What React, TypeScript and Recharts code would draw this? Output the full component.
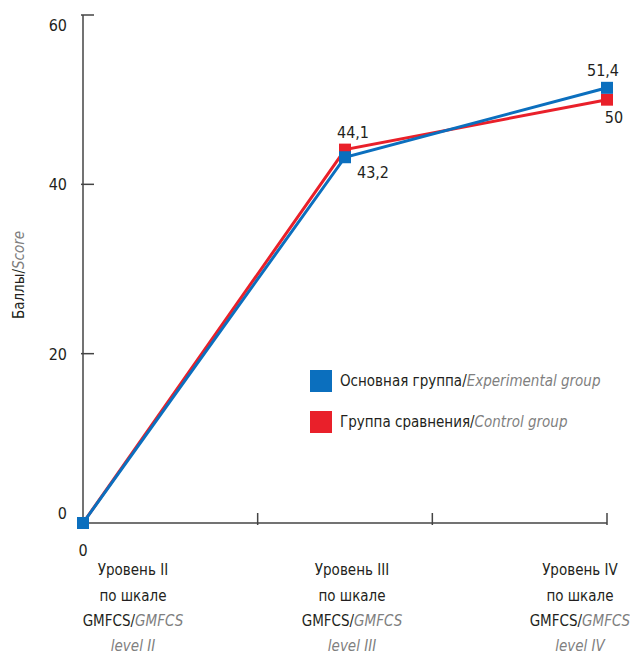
import React from "react";
import { LineChart, Line, XAxis, YAxis, Legend, Label, LabelList } from "recharts";

const levelRu = ["Уровень II", "Уровень III", "Уровень IV"];
const levelEn = ["level II", "level III", "level IV"];
const categoryPos = [0.286, 1.54, 2.845];
const pointPos = [0, 1.5, 3];
const experimental = [0, 43.2, 51.4];
const control = [0, 44.1, 50];
const experimentalLabels = ["", "43,2", "51,4"];
const controlLabels = ["", "44,1", "50"];
const yTicks = [0, 20, 40, 60];
const xTicks = [0, 1, 2, 3];

const BLUE = "#0b6fbe";
const RED = "#e9202a";
const DARK = "#231f20";
const GRAY = "#7f7f7f";
const AXIS = "#444444";
const FONT = "'DejaVu Sans Condensed', 'DejaVu Sans', sans-serif";
const FS = 15;

const data = pointPos.map((x, i) => ({
  x,
  exp: experimental[i],
  ctrl: control[i],
  expLabel: experimentalLabels[i],
  ctrlLabel: controlLabels[i],
}));

const SquareDot = (color: string) => (props: any) => {
  const { cx, cy } = props;
  if (cx == null || cy == null) return null;
  return <rect x={cx - 6} y={cy - 6} width={12} height={12} fill={color} />;
};

const YTick = (props: any) => {
  const { x, y, payload } = props;
  const v = payload.value;
  const dy = v === 60 ? 10 : v === 0 ? -10 : 0;
  return (
    <g>
      {v !== 0 && <line x1={x} x2={x + 13} y1={y} y2={y} stroke={AXIS} strokeWidth={1.5} />}
      <text x={x - 14} y={y + dy + 6} textAnchor="end" fontFamily={FONT} fontSize={16} fill={DARK}>
        {v}
      </text>
    </g>
  );
};

const MainXTick = (props: any) => {
  const { x, y, payload } = props;
  const v = payload.value;
  if (v === 0) {
    return (
      <text x={x} y={y + 31} textAnchor="middle" fontFamily={FONT} fontSize={16} fill={DARK}>
        0
      </text>
    );
  }
  return <line x1={x} x2={x} y1={y - 12} y2={y} stroke={AXIS} strokeWidth={1.5} />;
};

const CatTick = (props: any) => {
  const { x, payload } = props;
  const i = categoryPos.indexOf(payload.value);
  if (i < 0) return null;
  const base = 575;
  return (
    <text x={x} y={base} textAnchor="middle" fontFamily={FONT} fontSize={FS} fill={DARK}>
      <tspan x={x} y={base}>{levelRu[i]}</tspan>
      <tspan x={x} y={base + 25.5}>по шкале</tspan>
      <tspan x={x} y={base + 51}>
        GMFCS/<tspan fill={GRAY} fontStyle="italic">GMFCS</tspan>
      </tspan>
      <tspan x={x} y={base + 75.5} fill={GRAY} fontStyle="italic">{levelEn[i]}</tspan>
    </text>
  );
};

const makeValueLabel = (key: "expLabel" | "ctrlLabel", offsets: { dx: number; dy: number }[]) => (props: any) => {
  const { x, y, index } = props;
  const text = data[index][key];
  if (!text) return null;
  const o = offsets[index];
  return (
    <text x={x + o.dx} y={y + o.dy} textAnchor="middle" fontFamily={FONT} fontSize={16} fill={DARK}>
      {text}
    </text>
  );
};

const expOffsets = [{ dx: 0, dy: 0 }, { dx: 28, dy: 21 }, { dx: -4, dy: -12 }];
const ctrlOffsets = [{ dx: 0, dy: 0 }, { dx: 8, dy: -12 }, { dx: 7, dy: 23 }];

const legendItems = [
  { color: BLUE, ru: "Основная группа", en: "Experimental group" },
  { color: RED, ru: "Группа сравнения", en: "Control group" },
];

const LegendContent = () => (
  <div style={{ fontFamily: FONT, fontSize: FS, color: DARK, whiteSpace: "nowrap" }}>
    {legendItems.map((it) => (
      <div key={it.ru} style={{ display: "flex", alignItems: "center", height: 22, marginBottom: 19 }}>
        <span style={{ display: "inline-block", width: 22, height: 22, background: it.color, marginRight: 8 }} />
        <span>
          {it.ru}/<span style={{ color: GRAY, fontStyle: "italic" }}>{it.en}</span>
        </span>
      </div>
    ))}
  </div>
);

const YAxisTitle = () => (
  <text
    x={24}
    y={275}
    textAnchor="middle"
    fontFamily={FONT}
    fontSize={FS}
    fill={DARK}
    transform="rotate(-90, 24, 275)"
  >
    Баллы/<tspan fill={GRAY} fontStyle="italic">Score</tspan>
  </text>
);

export default function App() {
  return (
    <div style={{ position: "absolute", left: 0, top: 0, width: 630, height: 655, background: "#fff" }}>
      <LineChart width={630} height={655} data={data} margin={{ top: 15, right: 23, left: 0, bottom: 0 }}>
        <YAxis
          type="number"
          domain={[0, 60]}
          ticks={yTicks}
          width={83}
          tickSize={0}
          tickLine={false}
          axisLine={{ stroke: AXIS, strokeWidth: 1.5 }}
          tick={<YTick />}
          interval={0}
        >
          <Label content={<YAxisTitle />} />
        </YAxis>
        <XAxis
          xAxisId="axis"
          dataKey="x"
          type="number"
          domain={[0, 3]}
          ticks={xTicks}
          interval={0}
          height={30}
          tickSize={0}
          tickLine={false}
          axisLine={{ stroke: AXIS, strokeWidth: 1.5 }}
          tick={<MainXTick />}
        />
        <XAxis
          xAxisId="labels"
          dataKey="x"
          type="number"
          domain={[0, 3]}
          ticks={categoryPos}
          interval={0}
          height={102}
          tickSize={0}
          tickLine={false}
          axisLine={false}
          tick={<CatTick />}
        />
        <Legend
          layout="horizontal"
          verticalAlign="middle"
          content={<LegendContent />}
          wrapperStyle={{ left: 310, top: 370, width: 320 }}
        />
        <Line
          xAxisId="axis"
          dataKey="ctrl"
          stroke={RED}
          strokeWidth={3}
          dot={SquareDot(RED)}
          activeDot={false}
          isAnimationActive={false}
        >
          <LabelList dataKey="ctrlLabel" content={makeValueLabel("ctrlLabel", ctrlOffsets)} />
        </Line>
        <Line
          xAxisId="axis"
          dataKey="exp"
          stroke={BLUE}
          strokeWidth={3}
          dot={SquareDot(BLUE)}
          activeDot={false}
          isAnimationActive={false}
        >
          <LabelList dataKey="expLabel" content={makeValueLabel("expLabel", expOffsets)} />
        </Line>
      </LineChart>
    </div>
  );
}
